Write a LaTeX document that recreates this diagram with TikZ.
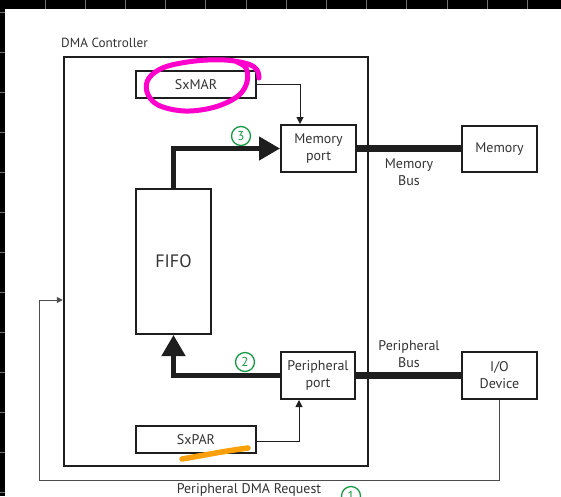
\documentclass[tikz,border=0pt]{standalone}
\usepackage{fontspec}
\setmainfont{PT Sans}
\usetikzlibrary{arrows.meta,calc}
\definecolor{txt}{HTML}{333333}
\definecolor{ln}{HTML}{1E1E1E}
\definecolor{grn}{HTML}{139A43}
\definecolor{mag}{RGB}{255,0,204}
\definecolor{org}{RGB}{250,160,10}
\tikzset{
  blk/.style={draw=ln,line width=2pt,inner sep=0pt,text=txt,font=\fontsize{14}{17}\selectfont,align=center},
  lbl/.style={text=txt,font=\fontsize{14}{17}\selectfont,align=center,inner sep=0pt},
  thinarr/.style={draw=ln,line width=1pt,-{Triangle[length=7pt,width=7pt]}},
  thickarr/.style={draw=ln,line width=4.5pt,-{Triangle[length=21pt,width=23pt]}},
  bus/.style={draw=ln,line width=7.5pt},
  reqline/.style={draw=black!70,line width=1pt,-{Triangle[length=6pt,width=6pt]}},
  num/.style={circle,draw=grn,line width=1.3pt,minimum size=19pt,inner sep=0pt,text=grn,font=\fontsize{13}{13}\selectfont},
}
\begin{document}
\begin{tikzpicture}[x=1pt,y=-1pt]
\useasboundingbox (0,0) rectangle (561,496);
\clip (0,0) rectangle (561,496);
\fill[white] (0,0) rectangle (561,496);
% screenshot bands
\fill[black] (0,0) rectangle (561,9);
\fill[black] (0,0) rectangle (5,496);
\foreach \i in {0,...,13} \draw[black!55,line width=0.8pt] (45+40.2*\i,0) -- (45+40.2*\i,9);
\foreach \i in {0,...,12} \draw[black!55,line width=0.8pt] (0,12+40*\i) -- (5,12+40*\i);
% outer box
\node[draw=ln,line width=2.5pt,minimum width=304pt,minimum height=409pt,inner sep=0pt] (dma) at (216,261.5) {};
\node[lbl,anchor=west,font=\fontsize{13.2}{16}\selectfont] (dmal) at (61,43) {DMA Controller};
% blocks
\node[blk,minimum width=120pt,minimum height=27pt] (sxmar) at (196,84.5) {SxMAR};
\node[blk,minimum width=75pt,minimum height=47pt] (mport) at (318.5,148.5) {Memory\\port};
\node[blk,minimum width=75pt,minimum height=46pt] (mem) at (499.5,149) {Memory};
\node[blk,minimum width=75pt,minimum height=145pt,font=\fontsize{18}{20}\selectfont] (fifo) at (173.5,261.5) {FIFO};
\node[blk,minimum width=74pt,minimum height=47pt] (pport) at (318,375.5) {Peripheral\\port};
\node[blk,minimum width=75pt,minimum height=47pt] (io) at (499.5,375.5) {I/O\\Device};
\node[blk,minimum width=120pt,minimum height=27pt] (sxpar) at (196,439.5) {SxPAR};
% labels
\node[lbl] (mbus) at (409,172) {Memory\\Bus};
\node[lbl] (pbus) at (409,354) {Peripheral\\Bus};
\node[lbl] (req) at (249,490) {Peripheral DMA Request};
% numbers
\node[num] (n3) at (241,136) {3};
\node[num] (n2) at (245,362) {2};
\node[num] (n1) at (351,496) {1};
% connectors
\draw[thinarr] (sxmar.east) -| ([xshift=-18.5pt]mport.north);
\draw[thinarr] ([yshift=-1.5pt]sxpar.east) -| ([xshift=-19pt]pport.south);
\draw[thickarr] (fifo.north) |- (mport.west);
\draw[thickarr] (pport.west) -| (fifo.south);
\draw[bus] (mport.east) -- (mport.east -| mem.west);
\draw[bus] (pport.east) -- (pport.east -| io.west);
\coordinate (lp) at (39,300);
\draw[reqline] (io.south) -- ++(0,80.5) -| (lp) -- (lp -| dma.west);
% annotations
\draw[mag,line width=5pt,line cap=round,line join=round] plot[smooth,tension=0.6] coordinates {(259,78) (257,70) (248,64) (225,60) (195,61) (165,67) (149,78) (147,92) (158,105) (185,111) (215,107) (238,96) (247,82) (246,68) (237,62)};
\draw[org,line width=5.5pt,line cap=round] (182,459) .. controls (205,455) and (225,451) .. (248,448);
\end{tikzpicture}
\end{document}
